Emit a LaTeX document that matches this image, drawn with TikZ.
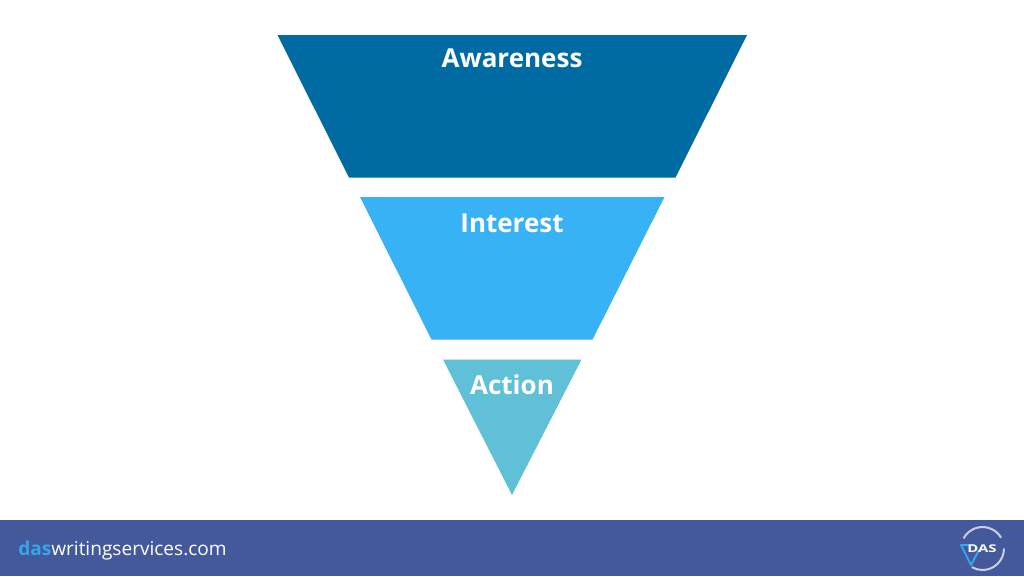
\documentclass[tikz,border=0pt]{standalone}
\usepackage{fontspec}
\setmainfont{Open Sans}
\definecolor{cAware}{HTML}{006BA3}
\definecolor{cInter}{HTML}{36B2F5}
\definecolor{cAct}{HTML}{5FC0D8}
\definecolor{cBar}{HTML}{44599B}
\definecolor{cDas}{HTML}{36A5EA}
\definecolor{cRing}{HTML}{C9CFDE}
\tikzset{
  funnel/.style={draw=none},
  flabel/.style={text=white,font=\fontsize{19.5}{22}\selectfont\bfseries,inner sep=0pt,anchor=center},
  foot/.style={text=white,font=\fontsize{14.3}{16}\selectfont,inner sep=0pt,anchor=base west},
  ring/.style={cRing,line width=1.5pt},
}
\begin{document}
\begin{tikzpicture}[x=0.75pt,y=-0.75pt]
\useasboundingbox (0,0) rectangle (1024,576);
\fill[white] (0,0) rectangle (1024,576);
\fill[cBar] (0,520) rectangle (1024,576);
\fill[funnel,cAware] (277.5,35) -- (747,35) -- (675.5,177.5) -- (349,177.5) -- cycle;
\fill[funnel,cInter] (360,197) -- (664.5,197) -- (592.5,339.5) -- (431.5,339.5) -- cycle;
\fill[funnel,cAct] (443,359.5) -- (581.5,359.5) -- (512,495) -- cycle;
\node[flabel] (aw) at (512,58) {Awareness};
\node[flabel] (in) at (512,223) {Interest};
\node[flabel] (ac) at (512,385) {Action};
\node[foot] (url) at (18,555) {{\bfseries\color{cDas}das}writingservices.com};
% logo
\draw[ring] (982.5,548.5) ++(208:21.5) arc (208:330:21.5);
\draw[ring] (982.5,548.5) ++(0:21.5) arc (0:120:21.5);
\draw[cDas,line width=1.5pt,line join=round] (975,545) -- (961,545) -- (971,565) -- (979,550);
\node[text=white,font=\fontsize{8}{8}\selectfont\bfseries,inner sep=0pt,xscale=1.4] (das) at (982,549) {DAS};
\end{tikzpicture}
\end{document}
